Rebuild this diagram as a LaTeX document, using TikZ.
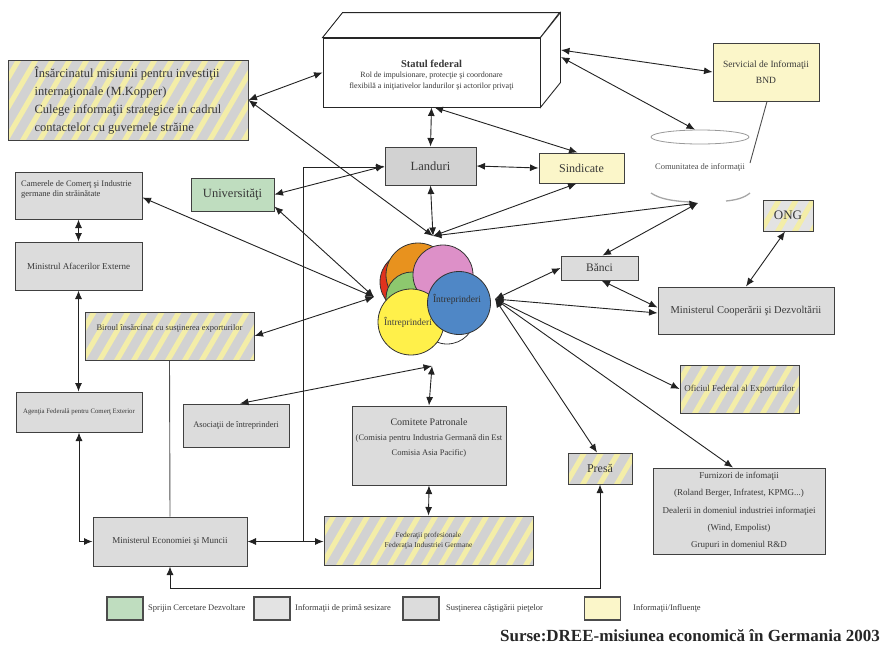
\documentclass[tikz,border=0pt]{standalone}
\usepackage{fontspec}
\setmainfont{Liberation Serif}
\usetikzlibrary{arrows.meta,calc,shapes.geometric}
\definecolor{bgray}{HTML}{DCDCDC}
\definecolor{bgrayd}{HTML}{D2D2D2}
\definecolor{bgrayl}{HTML}{E3E3E3}
\definecolor{byel}{HTML}{FBF6C9}
\definecolor{bgreen}{HTML}{BFDDBF}
\definecolor{stripec}{HTML}{F3EDA8}
\definecolor{txt}{HTML}{383838}
\definecolor{lnc}{HTML}{222222}
\definecolor{cred}{HTML}{E0321E}
\definecolor{corange}{HTML}{E8921E}
\definecolor{cgreen}{HTML}{8DC86E}
\definecolor{cpink}{HTML}{DD90C8}
\definecolor{cblue}{HTML}{4F87C6}
\definecolor{cyellow}{HTML}{FFF04A}
\newcommand\fsz[2]{\fontsize{#1}{#2}\selectfont}
\begin{document}
\begin{tikzpicture}[x=1pt,y=-1pt,
  bx/.style={draw=black!75, line width=1pt, inner sep=1pt, align=center, text=txt},
  gbox/.style={bx, fill=bgray},
  ybox/.style={bx, fill=byel},
  grbox/.style={bx, fill=bgreen},
  sbox/.style={bx, fill=bgrayd, path picture={\foreach \k in {-90,-73,...,260}{\fill[stripec] ([xshift=\k pt]path picture bounding box.south west) -- ++(6pt,0pt) -- ++(70pt,120pt) -- ++(-6pt,0pt) -- cycle;}}},
  tlab/.style={text=txt, align=center, inner sep=0pt},
  lk/.style={draw=lnc, line width=0.9pt, {Latex[length=8.5pt,width=7pt]}-{Latex[length=8.5pt,width=7pt]}},
  lkto/.style={draw=lnc, line width=0.9pt, -{Latex[length=8.5pt,width=7pt]}},
  pl/.style={draw=lnc!80, line width=0.9pt},
  blob/.style={circle, draw=black!80, line width=0.8pt, inner sep=0pt},
  legsq/.style={draw=black!70, line width=1.3pt, minimum width=36pt, minimum height=23pt, inner sep=0pt},
  legtx/.style={anchor=west, text=txt, font=\fsz{8.5}{10}, inner sep=0pt}
]
\useasboundingbox (0,0) rectangle (883,646);

% ---------- boxes ----------
\node[sbox, minimum width=240pt, minimum height=80pt, align=left, font=\fsz{12.5}{18}] (ins) at (128,100)
  {Însărcinatul misiunii pentru investiţii\\internaţionale (M.Kopper)\\Culege informaţii strategice in cadrul\\contactelor cu guvernele străine};

\node[draw=black!85, line width=0.9pt, fill=white, minimum width=217pt, minimum height=69pt, inner sep=0pt] (stat) at (431.5,72.5) {};
\draw[draw=black!85, line width=0.9pt, fill=white] (stat.north west) -- ++(20pt,25pt) -- ++(217pt,0pt) -- (stat.north east) -- cycle;
\draw[draw=black!85, line width=0.9pt, fill=white] (stat.north east) -- ++(20pt,25pt) -- ++(0pt,-70pt) -- (stat.south east) -- cycle;
\node[tlab, font=\fsz{8}{10.5}] (statt) at (431.5,75)
  {{\bfseries\fsz{10.5}{12}Statul federal}\\Rol de impulsionare, protecţie şi coordonare\\flexibilă a iniţiativelor landurilor şi actorilor privaţi};

\node[ybox, minimum width=106pt, minimum height=58pt, font=\fsz{9.5}{16}] (bnd) at (766,72) {Servicial de Informaţii\\BND};

\node[draw=gray!80, line width=0.8pt, ellipse, minimum width=98pt, minimum height=14pt, inner sep=0pt] (comtop) at (700,137) {};
\node[tlab, font=\fsz{8.5}{10}, text=black!70] (com) at (700,167) {Comunitatea de informaţii};
\draw[gray!70, line width=1.3pt] (651,193) .. controls (660,199) and (672,201) .. (690,202);
\draw[gray!70, line width=1.3pt] (726,201) .. controls (736,200) and (744,198) .. (750,193);
\coordinate (combot) at (698,203);
\coordinate (comr) at (750,163);
\draw[pl] ([xshift=1pt]bnd.south) -- (comr);

\node[sbox, fill=bgrayl, minimum width=50pt, minimum height=31pt, font=\fsz{13}{15}] (ong) at (788,215.5) {ONG};
\node[gbox, minimum width=77pt, minimum height=24pt, font=\fsz{11.5}{13}] (banci) at (599.5,268) {Bănci};
\node[gbox, minimum width=176pt, minimum height=47pt, font=\fsz{10.5}{12}] (mc) at (746,310.5) {Ministerul Cooperării şi Dezvoltării};
\node[gbox, fill=bgrayd, minimum width=91pt, minimum height=38pt, font=\fsz{12.5}{14}] (landuri) at (430.5,166) {Landuri};
\node[ybox, minimum width=85pt, minimum height=30pt, font=\fsz{12}{14}] (sind) at (581.5,168) {Sindicate};
\node[grbox, minimum width=83pt, minimum height=33pt, font=\fsz{12.5}{14}] (univ) at (232.5,194.5) {Universităţi};

\node[gbox, minimum width=127pt, minimum height=47pt] (cam) at (78.5,195.5) {};
\node[tlab, anchor=north west, align=left, font=\fsz{8.5}{10}] (camt) at (21,180) {Camerele de Comerţ şi Industrie\\germane din străinătate};
\node[gbox, minimum width=127pt, minimum height=48pt, font=\fsz{9}{11}] (mae) at (78.5,266) {Ministrul Afacerilor Externe};
\node[sbox, minimum width=169pt, minimum height=48pt] (birou) at (169.5,336) {};
\node[tlab, font=\fsz{8.5}{10}] (birout) at (169.5,328) {Biroul însărcinat cu susţinerea exporturilor};
\node[gbox, minimum width=126pt, minimum height=40pt, font=\fsz{6.8}{8}] (agentia) at (79,412) {Agenţia Federală pentru Comerţ Exterior};
\node[gbox, minimum width=106pt, minimum height=43pt, font=\fsz{8.5}{10}] (asoc) at (236,425.5) {Asociaţii de întreprinderi};
\node[gbox, minimum width=154pt, minimum height=49pt, font=\fsz{9}{11}] (me) at (170,541.5) {Ministerul Economiei şi Muncii};

\node[gbox, minimum width=154pt, minimum height=79pt] (comit) at (429,445.5) {};
\node[tlab, font=\fsz{8.5}{15}] (comitt) at (429,438) {{\fsz{10}{15}Comitete Patronale}\\(Comisia pentru Industria Germană din Est\\Comisia Asia Pacific)};
\node[sbox, minimum width=209pt, minimum height=49pt, font=\fsz{7.5}{9.5}] (fed) at (428.5,540.5) {Federaţii profesionale\\Federaţia Industriei Germane};
\node[sbox, minimum width=64pt, minimum height=31pt, font=\fsz{12}{14}] (presa) at (600,468.5) {Presă};
\node[sbox, minimum width=119pt, minimum height=48pt, font=\fsz{9}{11}] (ofic) at (739.5,389) {Oficiul Federal al Exporturilor};
\node[gbox, minimum width=172pt, minimum height=86pt, font=\fsz{9}{17.3}] (furn) at (739,511)
  {Furnizori de infomaţii\\(Roland Berger, Infratest, KPMG...)\\Dealerii in domeniul industriei informaţiei\\(Wind, Empolist)\\Grupuri in domeniul R\&D};

% ---------- cluster ----------
\node[blob, fill=cred, minimum size=60pt] (c1) at (410,282) {};
\node[blob, fill=corange, minimum size=64pt] (c2) at (418,275) {};
\node[blob, fill=cgreen, minimum size=52pt] (c3) at (412,298) {};
\node[blob, fill=cpink, minimum size=60pt] (c4) at (443,275) {};
\node[blob, fill=white, minimum size=56pt] (c5) at (447,316) {};
\node[blob, fill=cyellow, minimum size=66pt] (c6) at (411,322) {};
\node[blob, fill=cblue, minimum size=63pt] (c7) at (459,303) {};
\node[tlab, font=\fsz{9.5}{11}, text=black!75] (c6t) at (408,322) {Întreprinderi};
\node[tlab, font=\fsz{9.5}{11}, text=black!80] (c7t) at (457,299) {Întreprinderi};

\coordinate (ctop) at (433,236);
\coordinate (cleft) at (374,297);
\coordinate (cright) at (495,299);
\coordinate (cbot) at (432,366);
\coordinate (statR1) at (561,50);
\coordinate (statR2) at (561,57);
\coordinate (jt) at (303,167);
\coordinate (jb) at (303,541);
\coordinate (yb) at (0,588);

% ---------- connectors ----------
\draw[lk] (ins.east) -- (stat.west);
\draw[lk] (ins.east) -- (ctop);
\draw[lk] (stat.south) -- (landuri.north);
\draw[lk] ([xshift=3pt]stat.south) -- ([xshift=-4pt]sind.north);
\draw[lk] (statR1) -- (bnd.west);
\draw[lk] (statR2) -- ([xshift=-5pt]comtop.north);
\draw[lk] (landuri.east) -- (sind.west);
\draw[lk] (univ.east) -- (landuri.west);
\draw[lkto] (jb) -- (jt) -- (jt -| landuri.west);
\draw[lk] (landuri.south) -- (ctop);
\draw[lk] ([xshift=-5pt]sind.south) -- (ctop);
\draw[lk] (combot) -- (ctop);
\draw[lk] ([xshift=3pt]banci.north) -- (combot);
\draw[lk] (cright) -- (banci.west);
\draw[lk] (cright) -- ([yshift=-2.5pt]mc.west);
\draw[lk] ([xshift=2pt]banci.south) -- ([yshift=3pt]mc.west);
\draw[lk] ([xshift=-3pt]ong.south) -- (mc.north);
\draw[lk] (cright) -- (ofic.west);
\draw[lk] (cright) -- ([xshift=-6pt]furn.north);
\draw[lk] (cright) -- ([xshift=-3pt]presa.north);
\draw[lk] (cleft) -- ([yshift=5pt]univ.south east);
\draw[lk] (cleft) -- ([yshift=-2pt]cam.east);
\draw[lk] (cleft) -- (birou.east);
\draw[lk] (cbot) -- ([xshift=4pt]asoc.north);
\draw[lk] (cbot) -- (comit.north);
\draw[lk] (comit.south) -- (fed.north);
\draw[lk] (cam.south) -- (mae.north);
\draw[lk] (mae.south) -- (mae.south |- agentia.north);
\draw[lk] (agentia.south) -- (agentia.south |- me.west) -- (me.west);
\draw[lk] (me.east) -- (me.east -| fed.west);
\draw[pl] (birou.south) -- (me.north);
\draw[lk] (presa.south) -- (presa.south |- yb) -- (me.south |- yb) -- (me.south);

% ---------- legend ----------
\node[legsq, fill=bgreen] (l1) at (125,608.5) {};
\node[legtx] (l1t) at (148,608.5) {Sprijin Cercetare Dezvoltare};
\node[legsq, fill=bgrayl] (l2) at (272,608.5) {};
\node[legtx] (l2t) at (295,608.5) {Informaţii de primă sesizare};
\node[legsq, fill=bgray] (l3) at (421,608.5) {};
\node[legtx] (l3t) at (446,608.5) {Susţinerea câştigării pieţelor};
\node[legsq, fill=byel] (l4) at (602.5,608.5) {};
\node[legtx] (l4t) at (633,608.5) {Informaţii/Influenţe};
\node[anchor=east, inner sep=0pt, font=\bfseries\fsz{17}{20}, text=black!85] (src) at (880,636) {Surse:DREE-misiunea economică în Germania 2003};
\end{tikzpicture}
\end{document}
